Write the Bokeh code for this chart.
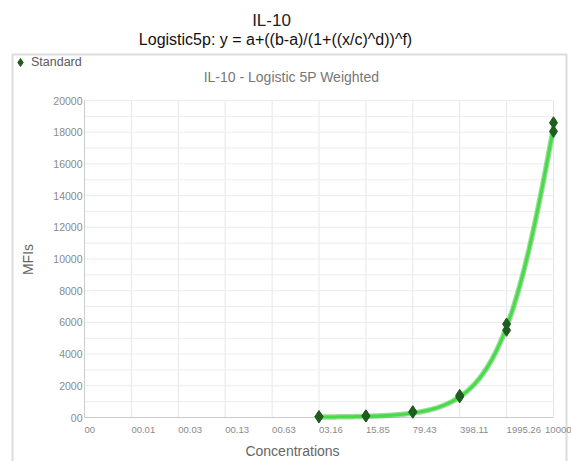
import numpy as np
from bokeh.plotting import figure
from bokeh.models import (Range1d, FixedTicker, CustomJSTickFormatter, Label,
                          BoxAnnotation, Legend, LegendItem)
from bokeh.embed import file_html
from bokeh.resources import INLINE

# ---- data ----
conc = [3.16, 3.16, 15.85, 15.85, 79.43, 79.43, 398.11, 398.11,
        1995.26, 1995.26, 10000.0, 10000.0]
mfi = [40, 60, 90, 110, 330, 370, 1300, 1400, 5500, 5900, 18050, 18600]

x_ticks = [0.001, 0.005012, 0.025119, 0.125893, 0.630957, 3.162278,
           15.848932, 79.432823, 398.107171, 1995.262315, 10000.0]
x_labels = ["00", "00.01", "00.03", "00.13", "00.63", "03.16", "15.85",
            "79.43", "398.11", "1995.26", "10000"]
y_ticks = [0, 2000, 4000, 6000, 8000, 10000, 12000, 14000, 16000, 18000, 20000]
y_minor = [1000, 3000, 5000, 7000, 9000, 11000, 13000, 15000, 17000, 19000]
y_labels = ["00", "2000", "4000", "6000", "8000", "10000", "12000", "14000",
            "16000", "18000", "20000"]

# 5PL fit parameters (estimated): y = a+((b-a)/(1+((x/c)^d))^f)
fit_a, fit_b, fit_c, fit_d, fit_f = 40725.0, 20.0, 12255.0, 1.0, 1.0
curve_start, curve_end = 3.16, 10000.0

cx = np.logspace(np.log10(curve_start), np.log10(curve_end), 300)
cy = fit_a + (fit_b - fit_a) / (1 + (cx / fit_c) ** fit_d) ** fit_f

FONT = "Liberation Sans"
W, H = 571, 461
FL, FR, FT, FB = 84, 553, 100, 417   # plot-area edges in canvas px

# the frame fills the whole canvas; ranges are set so that the plot area
# (x_ticks[0]..x_ticks[-1], y_ticks[0]..y_ticks[-1]) lands on FL..FR, FT..FB
lx0, lx1 = np.log10(x_ticks[0]), np.log10(x_ticks[-1])
ppd = (FR - FL) / (lx1 - lx0)
x_lo = 10 ** (lx0 - FL / ppd)
x_hi = 10 ** (lx1 + (W - FR) / ppd)
ppu = (FB - FT) / (y_ticks[-1] - y_ticks[0])
y_lo = y_ticks[0] - (H - FB) / ppu
y_hi = y_ticks[-1] + FT / ppu

p = figure(width=W, height=H, x_axis_type="log",
           x_range=Range1d(x_lo, x_hi), y_range=Range1d(y_lo, y_hi),
           output_backend="svg", toolbar_location=None,
           min_border_left=0, min_border_right=0,
           min_border_top=0, min_border_bottom=0)
p.outline_line_color = None
p.background_fill_color = "white"
p.border_fill_color = "white"
p.xgrid.visible = False
p.ygrid.visible = False

# grid lines (at tick positions, limited to the plot area)
all_y = sorted(y_ticks + y_minor)
p.segment(x0=x_ticks[1:], y0=y_ticks[0], x1=x_ticks[1:], y1=y_ticks[-1],
          line_color="#e6e6e6", line_width=1)
p.segment(x0=x_ticks[0], y0=all_y[1:], x1=x_ticks[-1], y1=all_y[1:],
          line_color="#ececec", line_width=1)
# axis lines
p.segment(x0=[x_ticks[0], x_ticks[0]], y0=[y_ticks[0], y_ticks[0]],
          x1=[x_ticks[-1], x_ticks[0]], y1=[y_ticks[0], y_ticks[-1]],
          line_color="#cccccc", line_width=1)

# axes, pinned to the plot area's edges
XS = 9.5
def half_w(s):
    return XS * sum(0.278 if ch == "." else 0.556 for ch in s) / 2
# labels in the reference start at their tick (left-aligned); the last one
# reaches the right edge of the picture
x_edge = x_hi / 10 ** (0.5 / ppd)
x_label_pos = [min(t * 10 ** (half_w(s) / ppd), x_edge)
               for t, s in zip(x_ticks, x_labels)]
p.xaxis.ticker = FixedTicker(ticks=x_label_pos)
p.xaxis.formatter = CustomJSTickFormatter(args=dict(labels=x_labels), code="""
    const k = Math.round((Math.log10(tick) + 3) / 0.7);
    return labels[Math.min(k, labels.length - 1)];
""")
p.yaxis.ticker = FixedTicker(ticks=y_ticks)
p.yaxis.formatter = CustomJSTickFormatter(args=dict(labels=y_labels), code="""
    return labels[Math.round(tick / 2000)];
""")
p.xaxis.fixed_location = y_ticks[0]
p.yaxis.fixed_location = x_ticks[0]
for ax in (p.xaxis[0], p.yaxis[0]):
    ax.axis_line_color = None
    ax.major_tick_line_color = None
    ax.minor_tick_line_color = None
    ax.major_tick_out = 0
    ax.major_tick_in = 0
    ax.major_label_text_font = FONT
    ax.major_label_text_color = "#8a8a8a"
p.xaxis.major_label_text_font_size = f"{XS}px"
p.yaxis.major_label_text_font_size = "10.5px"
p.xaxis.major_label_standoff = 9
p.yaxis.major_label_standoff = 2

# curve and points
p.line(cx, cy, line_color="#2fae2f", line_width=5.5, line_alpha=0.45)
p.line(cx, cy, line_color="#45dd45", line_width=3)
pts = p.scatter(conc, mfi, marker="diamond", size=12,
                fill_color="#1f5c1f", line_color="#1f5c1f")

# outer chart box
p.add_layout(BoxAnnotation(left=12, right=566, top=H - 54, bottom=-20,
                           left_units="screen", right_units="screen",
                           top_units="screen", bottom_units="screen",
                           fill_alpha=0, line_color="#8c8c8c", line_width=2))

legend = Legend(items=[LegendItem(label="Standard", renderers=[pts])],
                location=(10, H - 72), orientation="vertical",
                label_text_font=FONT, label_text_font_size="12.5px",
                label_text_color="#5a5a5a", glyph_width=20, glyph_height=20,
                padding=0, margin=0, spacing=0, label_standoff=1,
                background_fill_alpha=0, border_line_color=None)
p.add_layout(legend, "center")


def label(text, x, y, size, color, angle=0, align="center"):
    p.add_layout(Label(x=x, y=H - y, x_units="screen", y_units="screen",
                       text=text, text_font=FONT, text_font_size=size,
                       text_color=color, text_align=align,
                       text_baseline="middle", angle=angle))


label("IL-10", 271, 19.5, "17px", "#222222")
label("Logistic5p: y = a+((b-a)/(1+((x/c)^d))^f)", 275, 39, "16px", "#111111")
label("IL-10 - Logistic 5P Weighted", 291, 76, "14px", "#777777")
label("Concentrations", 292, 450, "14px", "#666666")
label("MFIs", 27, 259, "14px", "#666666", angle=np.pi / 2)

open("out.html", "w").write(file_html(p, INLINE))
